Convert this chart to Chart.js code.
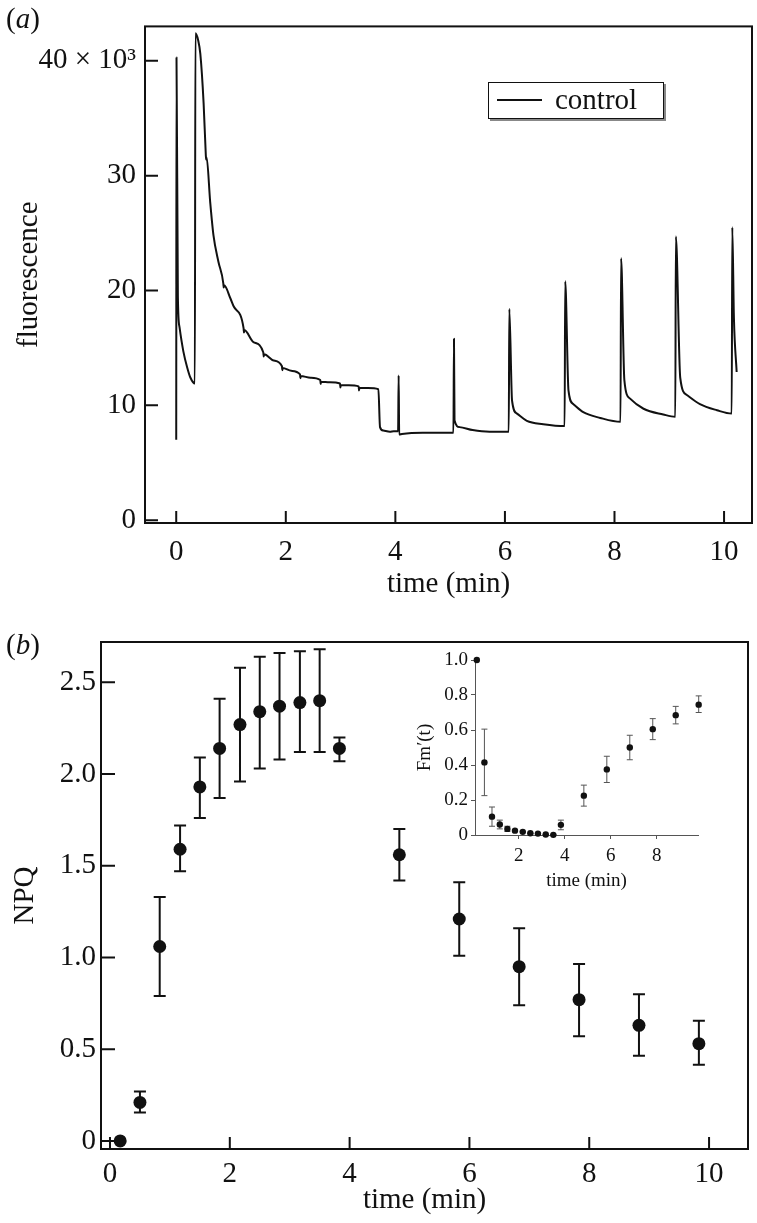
<!DOCTYPE html>
<html><head><meta charset="utf-8">
<script src="https://cdn.jsdelivr.net/npm/chart.js@4.4.1/dist/chart.umd.min.js"></script>
<style>
html,body{margin:0;padding:0;background:#fff;}
#wrap{position:relative;width:757px;height:1223px;overflow:hidden;font-family:"Liberation Serif","Times New Roman",serif;color:#111;}
canvas{position:absolute;}
.plab{position:absolute;font-size:29px;line-height:32px;}
#legend{position:absolute;left:488px;top:82px;width:174px;height:35px;border:1.5px solid #111;box-shadow:2px 2px 0 #888;background:#fff;}
#legend .sw{position:absolute;left:8px;top:16px;width:45px;border-top:2px solid #111;}
#legend .tx{position:absolute;left:66px;top:0;font-size:29px;line-height:33px;}
</style></head>
<body><div id="wrap">
<canvas id="cA" width="757" height="610" style="left:0;top:0;width:757px;height:610px"></canvas>
<canvas id="cB" width="757" height="613" style="left:0;top:610px;width:757px;height:613px"></canvas>
<canvas id="cI" width="320" height="260" style="left:400px;top:640px;width:320px;height:260px"></canvas>
<div class="plab" style="left:6px;top:2px">(<i>a</i>)</div>
<div class="plab" style="left:6px;top:628px">(<i>b</i>)</div>
<div id="legend"><span class="sw"></span><span class="tx" id="legText"></span></div>
</div>
<script>
// ---- panel (a): fluorescence trace (values in thousands) ----
const seriesLabelA = 'control';
const timeA = [0.000,0.005,0.030,0.060,0.130,0.200,0.260,0.340,
  0.350,0.400,0.440,0.500,0.540,0.546,0.554,0.620,0.680,0.770,
  0.860,0.866,0.874,0.990,1.050,1.230,1.236,1.244,1.410,1.590,1.596,1.604,1.780,
  1.930,1.936,1.944,2.100,2.260,2.266,2.274,2.450,2.630,2.636,2.644,2.800,
  2.990,2.996,3.004,3.150,3.330,3.336,3.344,3.500,3.690,
  3.720,3.780,3.900,3.970,4.050,4.060,4.070,4.120,4.500,5.060,
  5.070,5.080,5.170,5.410,5.720,6.070,
  6.080,6.130,6.220,6.400,6.700,7.090,
  7.100,7.160,7.250,7.430,7.740,8.110,
  8.120,8.180,8.280,8.530,8.890,9.110,
  9.120,9.200,9.320,9.560,9.870,10.140,
  10.150,10.180,10.230];
const fluorA = [7.0,40.3,19.5,16.8,14.7,13.3,12.4,11.9,
  42.4,41.8,40.6,36.3,31.8,31.4,31.6,27.7,24.8,22.5,
  20.6,20.25,20.45,19.3,18.6,16.7,16.35,16.55,15.5,14.6,14.25,14.45,13.9,
  13.4,13.05,13.25,13.0,12.7,12.35,12.55,12.4,12.2,11.85,12.05,12.0,
  11.9,11.55,11.75,11.75,11.65,11.3,11.5,11.5,11.4,
  8.1,7.8,7.7,7.75,7.75,12.6,7.45,7.5,7.6,7.6,
  15.8,8.7,8.1,7.84,7.7,7.7,
  18.4,10.4,9.28,8.65,8.36,8.19,
  20.8,11.3,10.1,9.4,8.9,8.56,
  22.8,12.2,10.6,9.7,9.2,9.0,
  24.7,12.4,10.9,10.1,9.57,9.28,
  25.5,17.6,12.9];
const xTicksA = [0,2,4,6,8,10];
const yTicksA = [0,10,20,30,40];

// ---- panel (b): NPQ ----
const timeB = [0.17,0.5,0.83,1.17,1.5,1.83,2.17,2.5,2.83,3.17,3.5,3.83,4.83,5.83,6.83,7.83,8.83,9.83];
const npq     = [0,0.21,1.06,1.59,1.93,2.14,2.27,2.34,2.37,2.39,2.40,2.14,1.56,1.21,0.95,0.77,0.63,0.53];
const npqLow  = [0,0.155,0.79,1.47,1.76,1.87,1.96,2.03,2.08,2.12,2.12,2.07,1.42,1.01,0.74,0.57,0.465,0.415];
const npqHigh = [0,0.27,1.33,1.72,2.09,2.41,2.58,2.64,2.66,2.67,2.68,2.20,1.70,1.41,1.16,0.965,0.80,0.655];
const xTicksB = [0,2,4,6,8,10];
const yTicksB = [0,0.5,1.0,1.5,2.0,2.5];

// ---- inset: Fm'(t) ----
const fm     = [1.0,0.415,0.105,0.06,0.035,0.025,0.018,0.01,0.008,0.003,0.001,0.058,0.225,0.375,0.50,0.605,0.685,0.745];
const fmLow  = [1.0,0.225,0.05,0.035,0.02,0.02,0.015,0.008,0.006,0.002,0.0,0.03,0.165,0.30,0.43,0.545,0.635,0.70];
const fmHigh = [1.0,0.605,0.16,0.085,0.05,0.03,0.021,0.012,0.01,0.004,0.002,0.085,0.285,0.45,0.57,0.665,0.735,0.795];
const xTicksI = [2,4,6,8];
const yTicksI = [0,0.2,0.4,0.6,0.8,1.0];

const xTitle = 'time (min)';
const yTitleA = 'fluorescence';
const yTitleB = 'NPQ';
const yTitleI = 'Fm\u2032(t)';

const FONT = '"Liberation Serif","Times New Roman",serif';
const FS = 29;
Chart.defaults.font.family = FONT;
Chart.defaults.color = '#111';
document.getElementById('legText').textContent = seriesLabelA;

const frameTicks = {
  id:'frameTicks',
  afterDraw(chart, args, opts){
    const {ctx, chartArea:a, scales} = chart;
    ctx.save();
    ctx.strokeStyle='#111'; ctx.lineWidth=2;
    ctx.strokeRect(a.left, a.top, a.right-a.left, a.bottom-a.top);
    ctx.beginPath();
    scales.x.ticks.forEach(t=>{const px=scales.x.getPixelForValue(t.value); ctx.moveTo(px,a.bottom); ctx.lineTo(px,a.bottom-opts.xLen);});
    scales.y.ticks.forEach(t=>{const py=scales.y.getPixelForValue(t.value); ctx.moveTo(a.left,py); ctx.lineTo(a.left+opts.yLen,py);});
    ctx.stroke();
    ctx.restore();
  }
};

function makeErrorBars(xs, lo, hi, color, width, cap){
  return {
    id:'errorBars',
    beforeDatasetsDraw(chart){
      const {ctx, scales:{x,y}} = chart;
      ctx.save(); ctx.strokeStyle=color; ctx.lineWidth=width;
      ctx.beginPath();
      xs.forEach((t,i)=>{
        if (hi[i]-lo[i] <= 0) return;
        const px=x.getPixelForValue(t), p1=y.getPixelForValue(lo[i]), p2=y.getPixelForValue(hi[i]);
        ctx.moveTo(px,p1); ctx.lineTo(px,p2);
        ctx.moveTo(px-cap,p1); ctx.lineTo(px+cap,p1);
        ctx.moveTo(px-cap,p2); ctx.lineTo(px+cap,p2);
      });
      ctx.stroke(); ctx.restore();
    }
  };
}
const setTicks = arr => s => { s.ticks = arr.map(v=>({value:v})); };

// Panel a
new Chart(document.getElementById('cA'), {
  type:'line',
  data:{datasets:[{label:seriesLabelA, data:timeA.map((t,i)=>({x:t,y:fluorA[i]})), borderColor:'#111', borderWidth:2, pointRadius:0, cubicInterpolationMode:'monotone', fill:false, borderJoinStyle:'round'}]},
  options:{
    responsive:false, animation:false, events:[],
    layout:{padding:{left:0,right:5,top:22,bottom:0}},
    plugins:{legend:{display:false}, tooltip:{enabled:false}, frameTicks:{xLen:12,yLen:13}},
    scales:{
      x:{type:'linear', min:-0.57, max:10.51, afterBuildTicks:setTicks(xTicksA), afterFit:s=>{s.height=87;},
        grid:{display:false,drawTicks:false}, border:{display:false},
        ticks:{font:{size:FS}, color:'#111', padding:12, maxRotation:0, autoSkip:false, callback:v=>String(v)},
        title:{display:true, text:xTitle, font:{size:FS}, color:'#111', padding:{top:0,bottom:8}}},
      y:{type:'linear', min:-0.25, max:43, afterBuildTicks:setTicks(yTicksA), afterFit:s=>{s.width=145;},
        grid:{display:false,drawTicks:false}, border:{display:false},
        ticks:{font:{size:FS}, color:'#111', padding:9, autoSkip:false, callback:v=> v===40 ? '40 \u00d7 10\u00b3' : String(v)},
        title:{display:true, text:yTitleA, font:{size:FS}, color:'#111', padding:{top:12,bottom:0}}}
    }
  },
  plugins:[frameTicks]
});

// Panel b
new Chart(document.getElementById('cB'), {
  type:'scatter',
  data:{datasets:[{label:yTitleB, data:timeB.map((t,i)=>({x:t,y:npq[i]})), backgroundColor:'#111', borderWidth:0, pointRadius:6.5}]},
  options:{
    responsive:false, animation:false, events:[],
    layout:{padding:{left:0,right:9,top:32,bottom:0}},
    plugins:{legend:{display:false}, tooltip:{enabled:false}, frameTicks:{xLen:12,yLen:14}},
    scales:{
      x:{type:'linear', min:-0.15, max:10.65, afterBuildTicks:setTicks(xTicksB), afterFit:s=>{s.height=74;},
        grid:{display:false,drawTicks:false}, border:{display:false},
        ticks:{font:{size:FS}, color:'#111', padding:8, maxRotation:0, autoSkip:false, callback:v=>String(v)},
        title:{display:true, text:xTitle, font:{size:FS}, color:'#111', padding:{top:0,bottom:5}}},
      y:{type:'linear', min:-0.044, max:2.72, afterBuildTicks:setTicks(yTicksB), afterFit:s=>{s.width=101;},
        grid:{display:false,drawTicks:false}, border:{display:false},
        ticks:{font:{size:FS}, color:'#111', padding:5, autoSkip:false, callback:v=> v===0 ? '0' : v.toFixed(1)},
        title:{display:true, text:yTitleB, font:{size:FS}, color:'#111', padding:{top:8,bottom:0}}}
    }
  },
  plugins:[makeErrorBars(timeB, npqLow, npqHigh, '#111', 2, 6), frameTicks]
});

// Inset
new Chart(document.getElementById('cI'), {
  type:'scatter',
  data:{datasets:[{label:yTitleI, data:timeB.map((t,i)=>({x:t,y:fm[i]})), backgroundColor:'#111', borderWidth:0, pointRadius:3.2, clip:false}]},
  options:{
    responsive:false, animation:false, events:[],
    layout:{padding:{left:0,right:22,top:20,bottom:0}},
    plugins:{legend:{display:false}, tooltip:{enabled:false}},
    scales:{
      x:{type:'linear', min:0.09, max:9.8, afterBuildTicks:setTicks(xTicksI), afterFit:s=>{s.height=65;},
        grid:{display:true, drawOnChartArea:false, drawTicks:true, tickLength:4, color:'#555', lineWidth:1}, border:{display:true,color:'#555',width:1},
        ticks:{font:{size:19}, color:'#111', padding:6, maxRotation:0, autoSkip:false, callback:v=>String(v)},
        title:{display:true, text:xTitle, font:{size:19}, color:'#111', padding:{top:0,bottom:8}}},
      y:{type:'linear', min:0, max:1.0, afterBuildTicks:setTicks(yTicksI), afterFit:s=>{s.width=75;},
        grid:{display:true, drawOnChartArea:false, drawTicks:true, tickLength:4, color:'#555', lineWidth:1}, border:{display:true,color:'#555',width:1},
        ticks:{font:{size:19}, color:'#111', padding:3, autoSkip:false, callback:v=> v===0 ? '0' : v.toFixed(1)},
        title:{display:true, text:yTitleI, font:{size:19}, color:'#111', padding:{top:14,bottom:0}}}
    }
  },
  plugins:[makeErrorBars(timeB, fmLow, fmHigh, '#555', 1, 3)]
});
</script>
</body></html>
